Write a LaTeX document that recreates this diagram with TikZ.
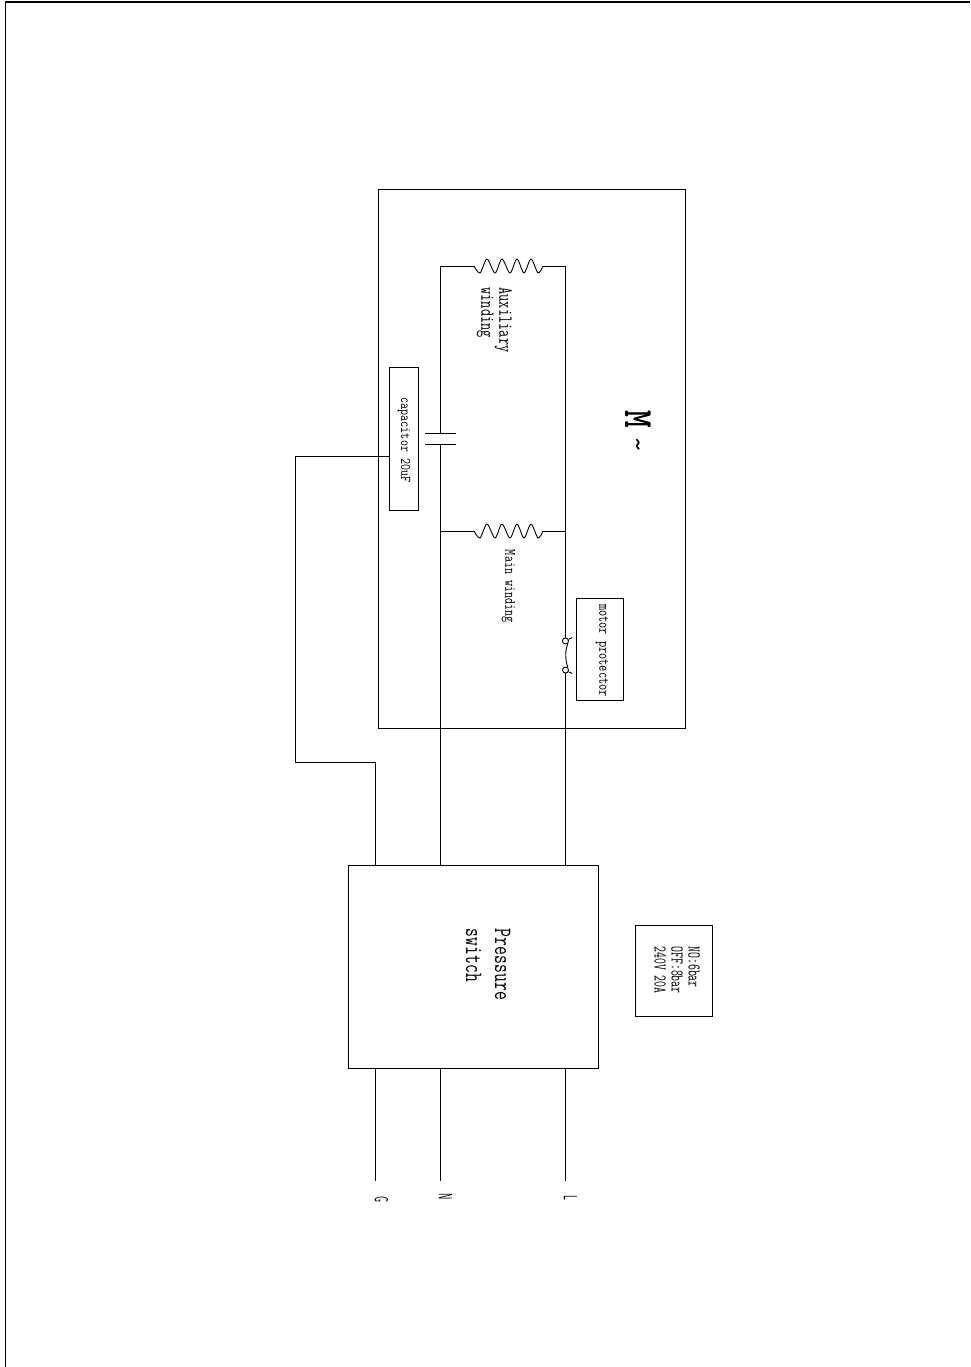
\documentclass[tikz,border=0pt]{standalone}
\newcommand{\sqtext}[2]{\scalebox{#1}[1]{\begin{tabular}{@{}l@{}}#2\end{tabular}}}
\begin{document}
\begin{tikzpicture}[x=1pt,y=-1pt,
  wire/.style={draw=black,line width=0.9pt},
  boxn/.style={draw=black,line width=0.9pt,rectangle,inner sep=0pt,outer sep=0pt,fill=none},
  lab/.style={rotate=-90,inner sep=0pt,font=\ttfamily,align=left},
  term/.style={inner sep=0pt,rotate=-90,font=\sffamily\fontsize{19}{19}\selectfont},
  coil/.pic={
    \coordinate (-in) at (0,0);
    \coordinate (-out) at (69,0);
    \draw[wire,line join=round] plot[smooth,tension=0.5] coordinates {(0,0) (6,7) (13,-7) (21,7) (28,-7) (36,7) (43,-7) (50,7) (57,-7) (64,7) (69,0)};
  }]
\useasboundingbox (0,0) rectangle (970,1367);
% page frame
\coordinate (fbl) at (5,1367);
\coordinate (ftl) at (5,2);
\coordinate (ftr) at (970,2);
\draw[line width=1pt] (fbl) -- (ftl);
\draw[line width=1.8pt] (ftl) -- (ftr);
% boxes
\node[boxn,minimum width=307pt,minimum height=539pt] (motor) at (532,458.5) {};
\node[boxn,minimum width=29pt,minimum height=143pt] (cap) at (403.5,438.5) {};
\node[boxn,minimum width=47pt,minimum height=102pt] (prot) at (599.5,649) {};
\node[boxn,minimum width=250pt,minimum height=203pt] (psw) at (473,966.5) {};
\node[boxn,minimum width=77pt,minimum height=91pt] (spec) at (673.5,970.5) {};
% terminals
\node[term] (G) at (381.5,1199) {\scalebox{0.5}[1]{G}};
\node[term] (N) at (445.5,1197) {\scalebox{0.5}[1]{N}};
\node[term] (L) at (570.5,1197.5) {\scalebox{0.5}[1]{L}};
\coordinate (Gend) at (375.5,1181);
\coordinate (Nend) at (440.5,1181);
\coordinate (Lend) at (565.5,1181);
% coils
\pic (aux) at (474,266) {coil};
\pic (main) at (474,531) {coil};
% corners and junctions
\coordinate (auxL) at (440.5,266);
\coordinate (auxR) at (565.5,266);
\coordinate (mainL) at (440.5,531);
\coordinate (mainR) at (565.5,531);
% capacitor plates
\coordinate (p1a) at (425,433); \coordinate (p1b) at (456,433);
\coordinate (p2a) at (425,444); \coordinate (p2b) at (456,444);
\coordinate (p1m) at (440.5,433); \coordinate (p2m) at (440.5,444);
\draw[wire] (p1a) -- (p1b);
\draw[wire] (p2a) -- (p2b);
% winding wires
\draw[wire] (p1m) -- (auxL) -- (aux-in);
\draw[wire] (aux-out) -- (auxR) -- (mainR);
\draw[wire] (mainL) -- (main-in);
\draw[wire] (main-out) -- (mainR);
% neutral
\coordinate (Ntop) at (440.5,865);
\coordinate (Nbot) at (440.5,1068);
\draw[wire] (p2m) -- (Ntop);
\draw[wire] (Nbot) -- (Nend);
% motor protector contact
\node[draw=black,line width=0.9pt,circle,inner sep=0pt,minimum size=6pt] (c1) at (565.5,641) {};
\node[draw=black,line width=0.9pt,circle,inner sep=0pt,minimum size=6pt] (c2) at (565.5,670) {};
\coordinate (t1) at (572,637.5);
\coordinate (t2) at (572,673.5);
\draw[wire] (mainR) -- (c1);
\draw[wire] (c1) -- (t1);
\draw[wire] (c2) -- (t2);
\draw[wire] (c1.south east) .. controls (565,650) and (565,660) .. (c2.north east);
\coordinate (Ltop) at (565.5,865);
\coordinate (Lbot) at (565.5,1068);
\draw[wire] (c2) -- (Ltop);
\draw[wire] (Lbot) -- (Lend);
% earth / capacitor lead
\coordinate (Gtop) at (375.5,865);
\coordinate (Gbot) at (375.5,1068);
\coordinate (g1) at (375.5,762);
\coordinate (g2) at (295,762);
\coordinate (g3) at (295,456);
\coordinate (g4) at (cap.west |- g3);
\draw[wire] (Gtop) -- (g1) -- (g2) -- (g3) -- (g4);
\draw[wire] (Gbot) -- (Gend);
% labels
\node[lab,font=\ttfamily\fontsize{20}{18}\selectfont] (auxlab) at (494,320) {\sqtext{0.7}{Auxiliary\\winding}};
\node[lab,font=\ttfamily\fontsize{15}{15}\selectfont] (caplab) at (404,440) {\sqtext{0.78}{capacitor 20uF}};
\node[lab,font=\ttfamily\fontsize{16}{16}\selectfont] (mainlab) at (508.5,586.5) {\sqtext{0.74}{Main winding}};
\node[lab,font=\ttfamily\fontsize{16}{16}\selectfont] (protlab) at (602.5,650.5) {\sqtext{0.75}{motor protector}};
\node[lab,font=\ttfamily\fontsize{25}{29}\selectfont] (pswlab) at (486.5,964.5) {\sqtext{0.69}{Pressure\\switch}};
\node[lab,font=\ttfamily\fontsize{18}{17}\selectfont] (speclab) at (675,970) {\sqtext{0.64}{NO:6bar\\OFF:8bar\\240V 20A}};
\node[lab,font=\ttfamily\bfseries\fontsize{42}{42}\selectfont] (mlab) at (638,419) {\scalebox{0.8}[1]{M}};
\node[lab,font=\ttfamily\fontsize{32}{32}\selectfont] (tilde) at (634,445) {\textasciitilde};
\end{tikzpicture}
\end{document}
